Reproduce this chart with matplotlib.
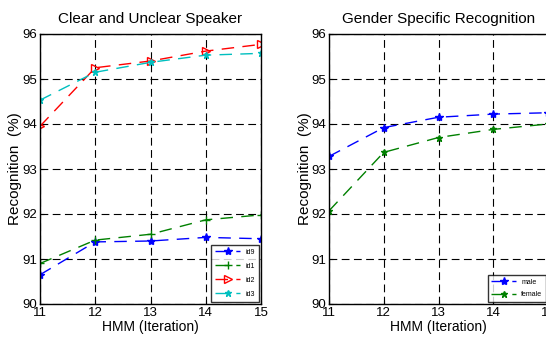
import matplotlib
matplotlib.use("Agg")
import matplotlib.pyplot as plt

plt.rcParams['font.family'] = ['Liberation Sans', 'DejaVu Sans']

iters = [11, 12, 13, 14, 15]
id9 = [90.65, 91.38, 91.40, 91.48, 91.45]
id1 = [90.90, 91.42, 91.55, 91.87, 91.98]
id2 = [93.95, 95.25, 95.40, 95.62, 95.77]
id3 = [94.53, 95.15, 95.37, 95.53, 95.57]
male = [93.28, 93.92, 94.15, 94.22, 94.25]
female = [92.07, 93.37, 93.70, 93.88, 94.00]
yticks = [90, 91, 92, 93, 94, 95, 96]

blue = (0, 0, 1)
green = (0, 0.5, 0)
red = (1, 0, 0)
cyan = (0, 0.75, 0.75)
dash = (0, (9, 6))

fig = plt.figure(figsize=(5.46, 3.38), dpi=100)
ax1 = fig.add_axes([40/546, 34/338, 221/546, 270/338])
ax2 = fig.add_axes([329/546, 34/338, 219/546, 270/338])


def style(ax, title):
    ax.set_xlim(11, 15)
    ax.set_ylim(90, 96)
    ax.set_xticks(iters)
    ax.set_yticks(yticks)
    ax.grid(True, color='black', linestyle=(0, (7, 4)), linewidth=0.8)
    ax.set_axisbelow(True)
    ax.tick_params(direction='in', labelsize=9.5, length=3, pad=2)
    ax.set_title(title, fontsize=11, pad=8)
    ax.set_xlabel('HMM (Iteration)', fontsize=10, labelpad=1)
    ax.set_ylabel('Recognition  (%)', fontsize=11)
    w = ax.get_position().width * 546
    ax.yaxis.set_label_coords(-17.5 / w, 0.5)
    for s in ax.spines.values():
        s.set_linewidth(1.0)


ax1.plot(iters, id9, color=blue, linestyle=dash, marker='*', markersize=6, lw=1, label='id9')
ax1.plot(iters, id1, color=green, linestyle=dash, marker='+', markersize=6, lw=1, label='id1')
ax1.plot(iters, id2, color=red, linestyle=dash, marker='>', markersize=6, mfc='none', lw=1, label='id2')
ax1.plot(iters, id3, color=cyan, linestyle=dash, marker='*', markersize=5, lw=1, label='id3')
style(ax1, 'Clear and Unclear Speaker')
leg1 = ax1.legend(loc='lower right', fontsize=5, frameon=True, fancybox=False,
                  edgecolor='black', handlelength=3.5, borderaxespad=0.3,
                  labelspacing=1.0, borderpad=0.6)
leg1.get_frame().set_linewidth(1.0)

ax2.plot(iters, male, color=blue, linestyle=dash, marker='*', markersize=6, lw=1, label='male')
ax2.plot(iters, female, color=green, linestyle=dash, marker='*', markersize=5, lw=1, label='female')
style(ax2, 'Gender Specific Recognition')
leg2 = ax2.legend(loc='lower right', fontsize=5, frameon=True, fancybox=False,
                  edgecolor='black', handlelength=3.5, borderaxespad=0.3,
                  labelspacing=0.8, borderpad=0.5)
leg2.get_frame().set_linewidth(1.0)

fig.savefig('out.png', dpi=100)
